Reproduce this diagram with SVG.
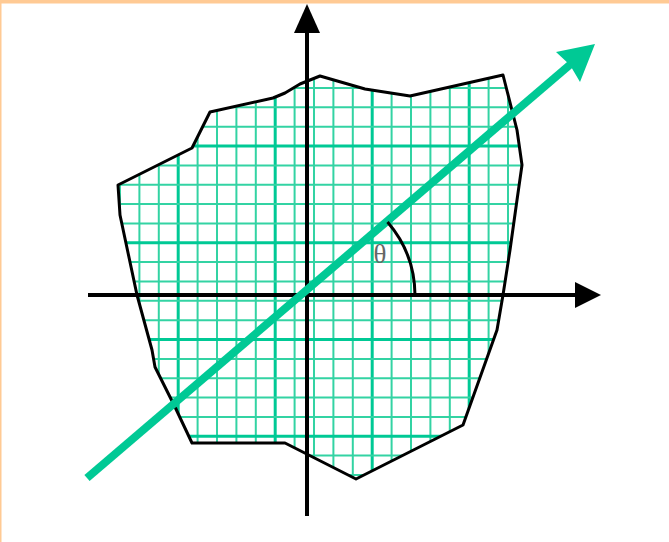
<svg xmlns="http://www.w3.org/2000/svg" width="669" height="542" viewBox="0 0 669 542">
  <style>
    .minor { stroke: #33D3A3; stroke-width: 2; }
    .major { stroke: #00C995; stroke-width: 3; }
    .outline { fill: none; stroke: #000; stroke-width: 3; stroke-linejoin: round; }
    .axis { stroke: #000; stroke-width: 4; fill: none; }
    .head { fill: #000; }
    .vec { stroke: #00C995; stroke-width: 8; fill: none; }
  </style>
  <defs>
    <clipPath id="clipRegion">
      <polygon id="regionShape" points="320,76 365,89 410,96 503,75 517,130 522,165 517,200 510,250 503,295 497,330 463,425 356,479 285,443 192,443 175,407 163,383 155,367 152,350 137,295 120,215 118,185 192,148 210,112 273,98 285,93 300,84"/>
    </clipPath>
  </defs>
  <rect x="0" y="0" width="669" height="542" fill="#fff"/>
  <rect x="0" y="0" width="669" height="3.5" fill="#FFCA94"/>
  <rect x="0" y="0" width="1.5" height="542" fill="#FFCA94"/>

  <g id="region">
    <g clip-path="url(#clipRegion)">
      <g id="gridV">
        <line class="minor" x1="120" y1="60" x2="120" y2="490"/>
        <line class="minor" x1="139.4" y1="60" x2="139.4" y2="490"/>
        <line class="minor" x1="158.8" y1="60" x2="158.8" y2="490"/>
        <line class="major" x1="178.2" y1="60" x2="178.2" y2="490"/>
        <line class="minor" x1="197.6" y1="60" x2="197.6" y2="490"/>
        <line class="minor" x1="217" y1="60" x2="217" y2="490"/>
        <line class="minor" x1="236.4" y1="60" x2="236.4" y2="490"/>
        <line class="minor" x1="255.8" y1="60" x2="255.8" y2="490"/>
        <line class="major" x1="275.2" y1="60" x2="275.2" y2="490"/>
        <line class="minor" x1="294.6" y1="60" x2="294.6" y2="490"/>
        <line class="minor" x1="314" y1="60" x2="314" y2="490"/>
        <line class="minor" x1="333.4" y1="60" x2="333.4" y2="490"/>
        <line class="minor" x1="352.8" y1="60" x2="352.8" y2="490"/>
        <line class="major" x1="372.2" y1="60" x2="372.2" y2="490"/>
        <line class="minor" x1="391.6" y1="60" x2="391.6" y2="490"/>
        <line class="minor" x1="411" y1="60" x2="411" y2="490"/>
        <line class="minor" x1="430.4" y1="60" x2="430.4" y2="490"/>
        <line class="minor" x1="449.8" y1="60" x2="449.8" y2="490"/>
        <line class="major" x1="469.2" y1="60" x2="469.2" y2="490"/>
        <line class="minor" x1="488.6" y1="60" x2="488.6" y2="490"/>
        <line class="minor" x1="508" y1="60" x2="508" y2="490"/>
      </g>
      <g id="gridH">
        <line class="minor" x1="100" y1="88" x2="540" y2="88"/>
        <line class="minor" x1="100" y1="107.3" x2="540" y2="107.3"/>
        <line class="minor" x1="100" y1="126.7" x2="540" y2="126.7"/>
        <line class="major" x1="100" y1="146" x2="540" y2="146"/>
        <line class="minor" x1="100" y1="165.4" x2="540" y2="165.4"/>
        <line class="minor" x1="100" y1="184.7" x2="540" y2="184.7"/>
        <line class="minor" x1="100" y1="204.1" x2="540" y2="204.1"/>
        <line class="minor" x1="100" y1="223.4" x2="540" y2="223.4"/>
        <line class="major" x1="100" y1="242.8" x2="540" y2="242.8"/>
        <line class="minor" x1="100" y1="262.1" x2="540" y2="262.1"/>
        <line class="minor" x1="100" y1="281.5" x2="540" y2="281.5"/>
        <line class="minor" x1="100" y1="300.8" x2="540" y2="300.8"/>
        <line class="minor" x1="100" y1="320.2" x2="540" y2="320.2"/>
        <line class="major" x1="100" y1="339.5" x2="540" y2="339.5"/>
        <line class="minor" x1="100" y1="358.9" x2="540" y2="358.9"/>
        <line class="minor" x1="100" y1="378.2" x2="540" y2="378.2"/>
        <line class="minor" x1="100" y1="397.6" x2="540" y2="397.6"/>
        <line class="minor" x1="100" y1="416.9" x2="540" y2="416.9"/>
        <line class="major" x1="100" y1="436.3" x2="540" y2="436.3"/>
        <line class="minor" x1="100" y1="455.6" x2="540" y2="455.6"/>
        <line class="minor" x1="100" y1="475" x2="540" y2="475"/>
      </g>
    </g>
    <polygon class="outline" points="320,76 365,89 410,96 503,75 517,130 522,165 517,200 510,250 503,295 497,330 463,425 356,479 285,443 192,443 175,407 163,383 155,367 152,350 137,295 120,215 118,185 192,148 210,112 273,98 285,93 300,84"/>
  </g>

  <g id="connectors">
    <g id="xAxis">
      <line class="axis" x1="88" y1="295" x2="578" y2="295"/>
      <polygon class="head" points="601,295 575,282 575,308"/>
    </g>
    <g id="yAxis">
      <line class="axis" x1="307" y1="30" x2="307" y2="516"/>
      <polygon class="head" points="307,4 294,33 320,33"/>
    </g>
    <g id="vector">
      <line class="vec" x1="87" y1="478" x2="572" y2="63" stroke-linecap="butt"/>
      <polygon fill="#00C995" points="595,44 556,52 570,65 580,82"/>
    </g>
  </g>

  <g id="angle">
    <path d="M 387.5,222 A 113 113 0 0 1 415,295" fill="none" stroke="#000" stroke-width="3"/>
    <text x="380" y="263" font-family="Liberation Serif, serif" font-size="27" fill="#666" text-anchor="middle">θ</text>
  </g>
</svg>
